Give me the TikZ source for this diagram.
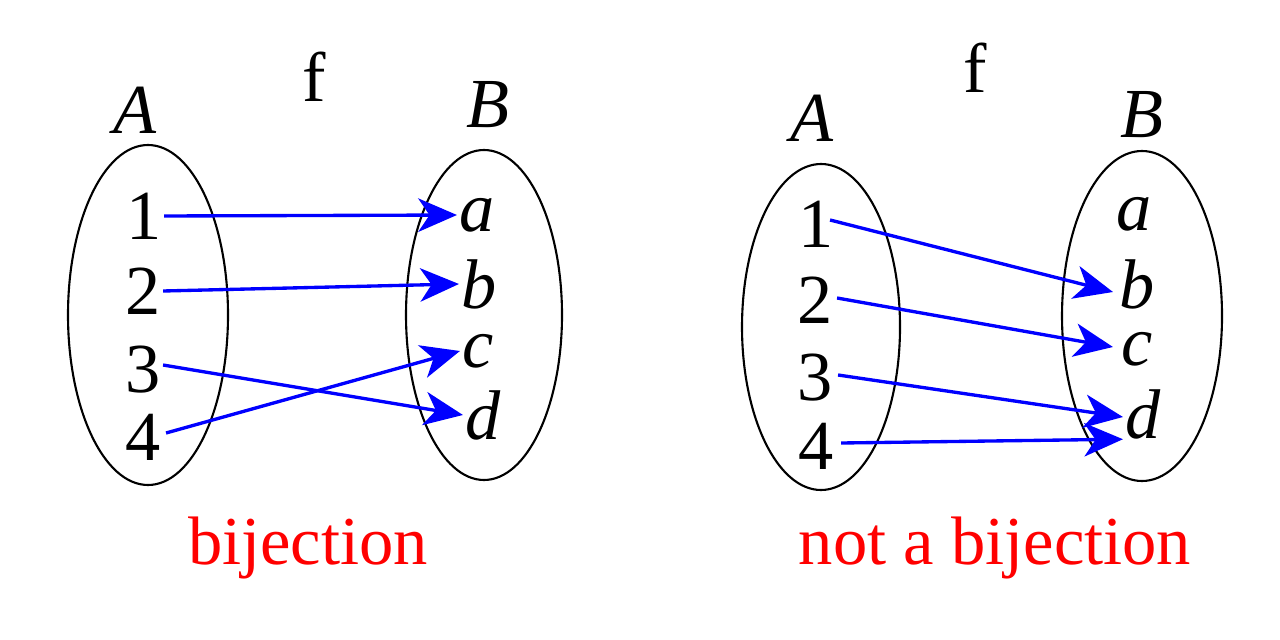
\documentclass[tikz,border=0pt]{standalone}
\usepackage{fontspec}
\setmainfont{Liberation Serif}
\usetikzlibrary{arrows.meta,calc}
\begin{document}
\begin{tikzpicture}[x=0.01cm,y=-0.01cm,
  lbl/.style={font=\fontsize{20}{24}\selectfont, inner sep=0.5pt},
  ilbl/.style={font=\fontsize{20}{24}\selectfont\itshape, inner sep=0.5pt},
  red lbl/.style={font=\fontsize{19.5}{24}\selectfont, text=red, inner sep=0pt},
  setring/.style={draw=black, line width=0.6pt},
  maparrow/.style={draw=blue, line width=0.95pt, -{Stealth[length=11pt,width=9.5pt,inset=3.2pt]}}]
\useasboundingbox (0,0) rectangle (1280,640);

% ---------- left: bijection ----------
\draw[setring] (148,315) ellipse [x radius=80, y radius=170];
\draw[setring] (484,315) ellipse [x radius=78, y radius=165];
\node[lbl] (lf) at (314,77) {f};
\node[ilbl] (lA) at (135,110) {A};
\node[ilbl] (lB) at (488,105) {B};
\node[lbl] (l1) at (144,216) {1};
\node[lbl] (l2) at (143,291) {2};
\node[lbl] (l3) at (143,370) {3};
\node[lbl] (l4) at (143,437) {4};
\node[ilbl] (la) at (477,215) {a};
\node[ilbl] (lb) at (479,284) {b};
\node[ilbl] (lc) at (478,351) {c};
\node[ilbl] (ld) at (483,415) {d};
\draw[maparrow] (l1.east) -- (la.west);
\draw[maparrow] (l2.east) -- (lb.west);
\draw[maparrow] ($(l3.east)+(0,-5)$) -- (ld.west);
\draw[maparrow] ($(l4.east)+(3,-4)$) -- (lc.west);
\node[red lbl] (lt) at (308,548) {bijection};

% ---------- right: not a bijection ----------
\draw[setring] (821,327) ellipse [x radius=79, y radius=163];
\draw[setring] (1142,316) ellipse [x radius=80, y radius=165];
\node[lbl] (rf) at (975,68) {f};
\node[ilbl] (rA) at (812,118) {A};
\node[ilbl] (rB) at (1142,115) {B};
\node[lbl] (r1) at (816,224) {1};
\node[lbl] (r2) at (815,300) {2};
\node[lbl] (r3) at (815,378) {3};
\node[lbl] (r4) at (816,446) {4};
\node[ilbl] (ra) at (1134,214) {a};
\node[ilbl] (rb) at (1137,284) {b};
\node[ilbl] (rc) at (1137,349) {c};
\node[ilbl] (rd) at (1143,414) {d};
\draw[maparrow] ($(r1.east)+(-6,-4)$) -- ($(rb.west)+(-4,8)$);
\draw[maparrow] ($(r2.east)+(2,-2)$) -- ($(rc.west)+(-6,-2)$);
\draw[maparrow] ($(r3.east)+(3,-3)$) -- ($(rd.west)+(0,3)$);
\draw[maparrow] ($(r4.east)+(5,-3)$) -- ($(rd.south west)+(0,-2)$);
\node[red lbl] (rt) at (995,548) {not a bijection};
\end{tikzpicture}
\end{document}
